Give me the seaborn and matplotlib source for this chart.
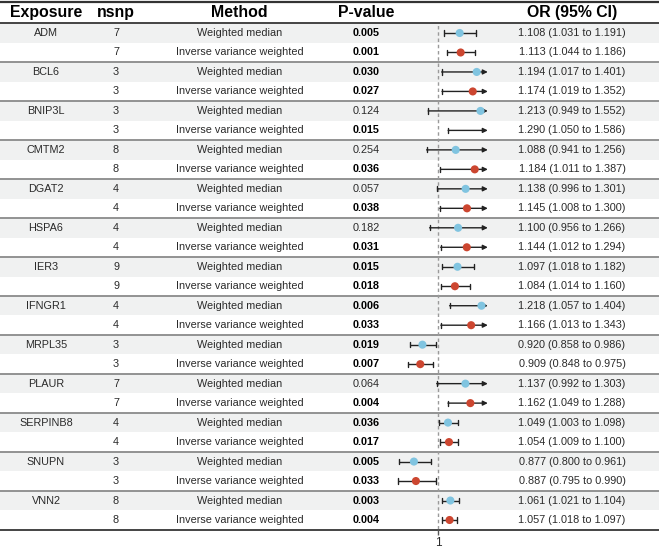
import numpy as np
import pandas as pd
import matplotlib
matplotlib.use("Agg")
import matplotlib.pyplot as plt
import seaborn as sns

exposures = ['ADM', 'BCL6', 'BNIP3L', 'CMTM2', 'DGAT2', 'HSPA6', 'IER3',
             'IFNGR1', 'MRPL35', 'PLAUR', 'SERPINB8', 'SNUPN', 'VNN2']
methods = ['Weighted median', 'Inverse variance weighted']
nsnp = [7, 7, 3, 3, 3, 3, 8, 8, 4, 4, 4, 4, 9, 9, 4, 4, 3, 3, 7, 7, 4, 4, 3, 3, 8, 8]
pvals = [0.005, 0.001, 0.030, 0.027, 0.124, 0.015, 0.254, 0.036, 0.057, 0.038,
         0.182, 0.031, 0.015, 0.018, 0.006, 0.033, 0.019, 0.007, 0.064, 0.004,
         0.036, 0.017, 0.005, 0.033, 0.003, 0.004]
or_val = [1.108, 1.113, 1.194, 1.174, 1.213, 1.290, 1.088, 1.184, 1.138, 1.145,
          1.100, 1.144, 1.097, 1.084, 1.218, 1.166, 0.920, 0.909, 1.137, 1.162,
          1.049, 1.054, 0.877, 0.887, 1.061, 1.057]
ci_lo = [1.031, 1.044, 1.017, 1.019, 0.949, 1.050, 0.941, 1.011, 0.996, 1.008,
         0.956, 1.012, 1.018, 1.014, 1.057, 1.013, 0.858, 0.848, 0.992, 1.049,
         1.003, 1.009, 0.800, 0.795, 1.021, 1.018]
ci_hi = [1.191, 1.186, 1.401, 1.352, 1.552, 1.586, 1.256, 1.387, 1.301, 1.300,
         1.266, 1.294, 1.182, 1.160, 1.404, 1.343, 0.986, 0.975, 1.303, 1.288,
         1.098, 1.100, 0.961, 0.990, 1.104, 1.097]

headers = ['Exposure', 'nsnp', 'Method', 'P-value', 'OR (95% CI)']

# ---------------- layout (pixels) ----------------
W, H = 659, 549
row_h = 19.48
y0 = 33.0
n = len(or_val)
ys = y0 + row_h * np.arange(n)
XMIN, XMAX = 0.78, 1.25
fx0, fx1 = 394.7, 487.8
fy_top, fy_bot = 23.0, 529.0

blue = '#80C4E0'
red = '#CC4630'
txt = '#2A2A2A'

sns.set_style('white')
plt.rcParams['font.family'] = ['Liberation Sans', 'DejaVu Sans']

fig = plt.figure(figsize=(W / 100, H / 100), dpi=100)
ax = fig.add_axes([0, 0, 1, 1])
ax.set_xlim(0, W)
ax.set_ylim(H, 0)
ax.axis('off')

# row shading
for i in range(0, n, 2):
    ax.axhspan(ys[i] - row_h / 2, ys[i] + row_h / 2, color='#F0F1F1', lw=0, zorder=0)

# horizontal lines
ax.axhline(1.5, color='#333333', lw=1.6, zorder=3)
ax.axhline(ys[0] - row_h / 2, color='#444444', lw=1.4, zorder=3)
for i in range(2, n, 2):
    ax.axhline(ys[i] - row_h / 2, color='#8A8A8A', lw=1.3, zorder=3)
ax.axhline(ys[-1] + row_h / 2, color='#444444', lw=1.4, zorder=3)

# headers
hx = [46, 116, 239, 366, 572]
for x, h in zip(hx, headers):
    ax.text(x, 12.5, h, ha='center', va='center', fontsize=11.4,
            fontweight='bold', color='black')

# body
fs = 7.8
for g, e in enumerate(exposures):
    ax.text(46, ys[2 * g], e, ha='center', va='center', fontsize=fs, color=txt)
for i in range(n):
    y = ys[i]
    ax.text(116, y, str(nsnp[i]), ha='center', va='center', fontsize=fs, color=txt)
    ax.text(240, y, methods[i % 2], ha='center', va='center', fontsize=fs, color=txt)
    bold = pvals[i] < 0.05
    ax.text(366, y, f'{pvals[i]:.3f}', ha='center', va='center', fontsize=fs,
            fontweight='bold' if bold else 'normal', color='black' if bold else txt)
    ax.text(572, y, f'{or_val[i]:.3f} ({ci_lo[i]:.3f} to {ci_hi[i]:.3f})',
            ha='center', va='center', fontsize=fs, color=txt)

# ---------------- forest axes ----------------
fa = fig.add_axes([fx0 / W, (H - fy_bot) / H, (fx1 - fx0) / W, (fy_bot - fy_top) / H])
fa.patch.set_alpha(0)
fa.set_xlim(XMIN, XMAX)
fa.set_ylim(fy_bot, fy_top)
for s in fa.spines.values():
    s.set_visible(False)
fa.set_yticks([])
fa.set_xticks([1])
fa.set_xticklabels(['1'])
fa.tick_params(axis='x', length=4.5, width=1, color='#555555', pad=1.5,
               labelsize=8.5, labelcolor=txt, bottom=True)
fa.axvline(1, color='#9A9A9A', lw=1, ls=(0, (2.5, 2)), zorder=1)

cap = 2.6
for i in range(n):
    y = ys[i]
    lo, hi = ci_lo[i], ci_hi[i]
    col = '#222222'
    if hi > XMAX:
        fa.annotate('', xy=(XMAX, y), xytext=(max(lo, XMIN), y),
                    xycoords='data', textcoords='data',
                    arrowprops=dict(arrowstyle='-|>', lw=1.0, color=col,
                                    mutation_scale=7, shrinkA=0, shrinkB=0),
                    zorder=2, annotation_clip=False)
    else:
        fa.plot([lo, hi], [y, y], color=col, lw=1.0, zorder=2, solid_capstyle='butt')
        fa.plot([hi, hi], [y - cap, y + cap], color=col, lw=1.0, zorder=2)
    fa.plot([lo, lo], [y - cap, y + cap], color=col, lw=1.0, zorder=2)

df = pd.DataFrame({'or': or_val, 'y': ys,
                   'method': [methods[i % 2] for i in range(n)]})
df = df[(df['or'] >= XMIN) & (df['or'] <= XMAX)]
sns.scatterplot(data=df, x='or', y='y', hue='method',
                palette={methods[0]: blue, methods[1]: red},
                s=34, linewidth=0, legend=False, ax=fa, zorder=4)
fa.set_xlabel('')
fa.set_ylabel('')
fa.set_ylim(fy_bot, fy_top)
fa.set_xlim(XMIN, XMAX)

fig.savefig('out.png', dpi=100)
